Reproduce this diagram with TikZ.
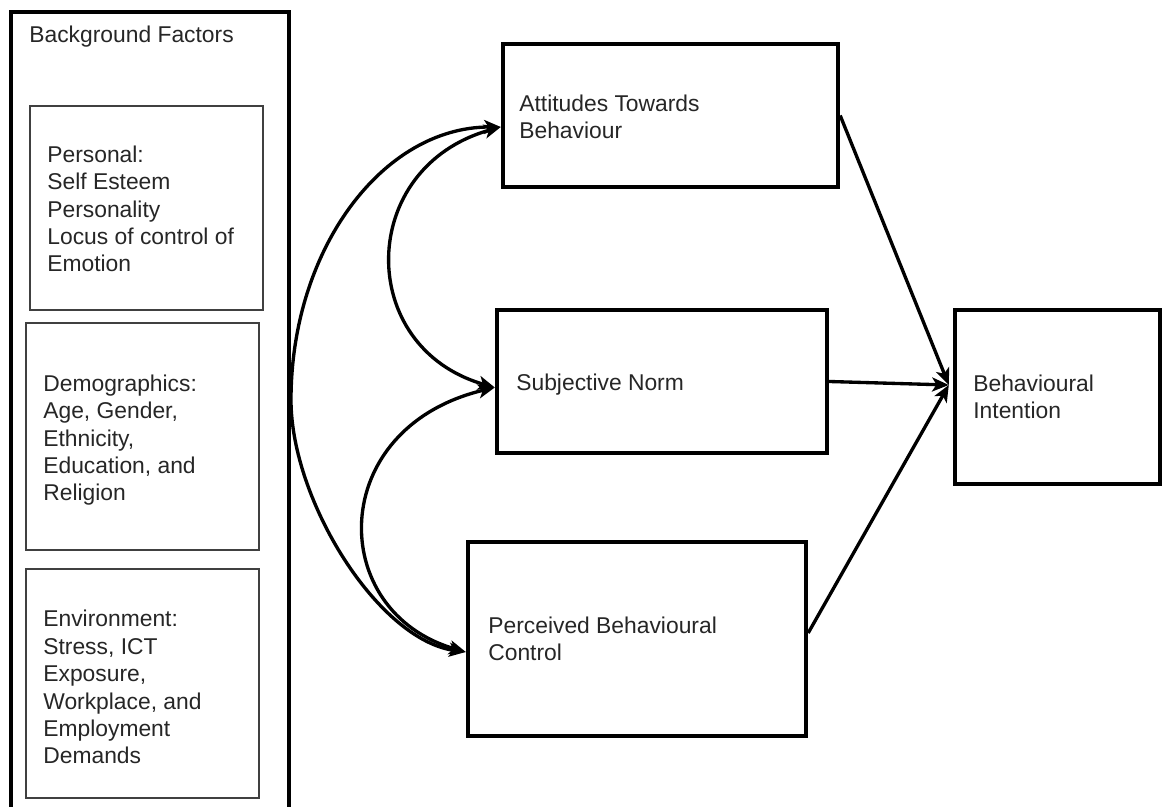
\documentclass[tikz,border=0pt]{standalone}
\usepackage{fontspec}
\setmainfont{Liberation Sans}
\usetikzlibrary{fit,arrows.meta}

\begin{document}
\begin{tikzpicture}[x=0.02cm, y=-0.02cm,
  frame/.style={draw, inner sep=0pt, line join=miter},
  bigbox/.style={frame, line width=2.5pt},
  outerbox/.style={frame, line width=2.3pt},
  smallbox/.style={frame, draw=black!75, line width=0.9pt},
  % anchored on the baseline of the last line of each label
  lbl/.style={anchor=base west, align=left, inner sep=0pt, text=black!85,
    font=\fontsize{13pt}{15.6pt}\selectfont},
  tip/.tip={Stealth[length=9.5pt,width=8pt,inset=2.5pt]},
  arr/.style={line width=1.9pt, -tip},
  biarr/.style={line width=1.9pt, tip-tip}
]
\useasboundingbox (0,0) rectangle (1164,807);

% background factors column
\node[outerbox, fit={(11,12) (289,850)}] (bg) {};
\node[lbl] (bg-t) at (29,43) {Background Factors};

\node[smallbox, fit={(30,106) (263,310)}] (pers) {};
\node[lbl] (pers-t) at (47,272) {Personal:\\Self Esteem\\Personality\\Locus of control of\\Emotion};

\node[smallbox, fit={(26,323) (259,550)}] (demo) {};
\node[lbl] (demo-t) at (43,501) {Demographics:\\Age, Gender,\\Ethnicity,\\Education, and\\Religion};

\node[smallbox, fit={(26,569) (259,798)}] (env) {};
\node[lbl] (env-t) at (43,764) {Environment:\\Stress, ICT\\Exposure,\\Workplace, and\\Employment\\Demands};

% model constructs
\node[bigbox, fit={(503,44) (838,187)}] (att) {};
\node[lbl] (att-t) at (519,139) {Attitudes Towards\\Behaviour};

\node[bigbox, fit={(497,310) (827,453)}] (subj) {};
\node[lbl] (subj-t) at (516,391) {Subjective Norm};

\node[bigbox, fit={(468,542) (806,736)}] (perc) {};
\node[lbl] (perc-t) at (488,661) {Perceived Behavioural\\Control};

\node[bigbox, fit={(955,310) (1160,484)}] (bi) {};
\node[lbl] (bi-t) at (973,419) {Behavioural\\Intention};

% correlations between the constructs
\coordinate (bend) at (291,400);
\draw[biarr] ([yshift=-0.23cm]att.west) .. controls +(-144,40) and +(-140,-40) .. ([yshift=-0.12cm]subj.west);
\draw[biarr] ([yshift=-0.12cm]subj.west) .. controls +(-169,40) and +(-140,-40) .. ([yshift=-0.26cm]perc.west);
\draw[biarr] ([yshift=-0.23cm]att.west) .. controls +(-118,0) and +(0,-151) .. (bend)
  .. controls +(0,100) and +(-88,-12) .. ([yshift=-0.26cm]perc.west);

% paths into intention
\coordinate (bi-in) at ([xshift=-0.08cm,yshift=0.24cm]bi.west);
\draw[arr] (att.east) -- (bi-in);
\draw[arr] (subj.east) -- (bi-in);
\draw[arr] ([yshift=0.12cm]perc.east) -- (bi-in);
\end{tikzpicture}
\end{document}
